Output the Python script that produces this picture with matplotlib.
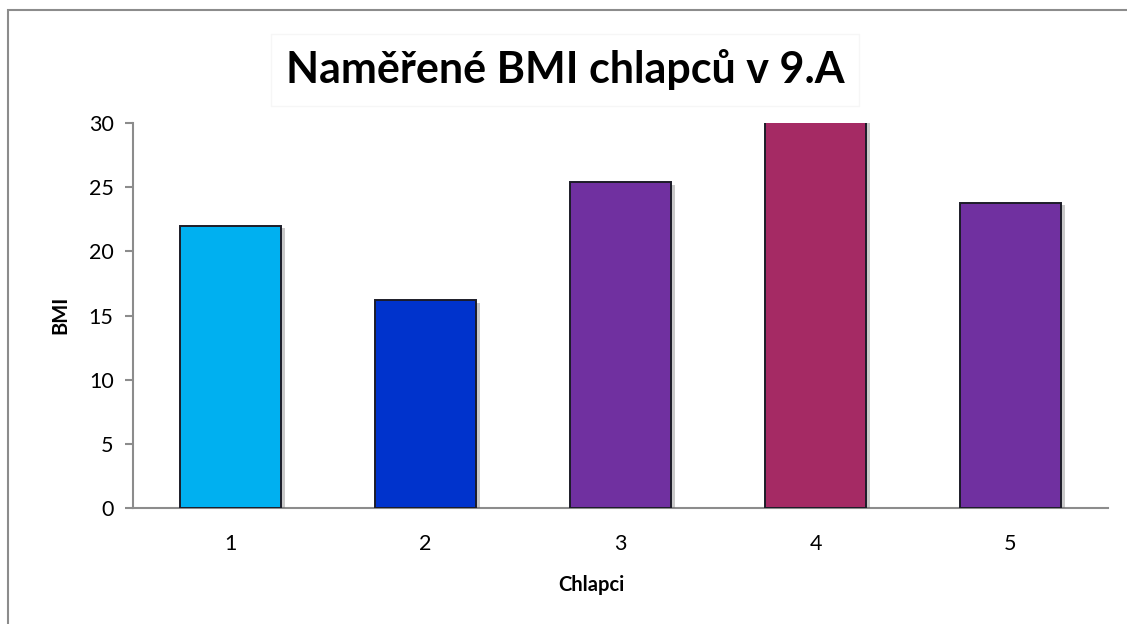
#!/usr/bin/env python3
"""Bar chart of measured BMI of boys in class 9.A."""

import matplotlib

matplotlib.use("Agg")
import matplotlib.pyplot as plt  # noqa: E402
import matplotlib.patheffects as pe  # noqa: E402
from matplotlib.patches import Rectangle  # noqa: E402

boys = ["1", "2", "3", "4", "5"]
bmi = [22.0, 16.2, 25.4, 31.0, 23.8]
bar_colors = ["#00B0F0", "#0033CC", "#7030A0", "#A52A64", "#7030A0"]
y_ticks = [0, 5, 10, 15, 20, 25, 30]

plt.rcParams["font.family"] = ["Lato", "DejaVu Sans"]

W, H = 1127, 624
fig = plt.figure(figsize=(W / 100, H / 100), dpi=100)
fig.patch.set_facecolor("white")

# outer chart frame (only top and left edge are inside the picture)
fig.add_artist(Rectangle((8 / W, -0.1), 1.2, (H - 10) / H + 0.1,
                         transform=fig.transFigure, fill=False,
                         edgecolor="#8c8c8c", linewidth=1.5))

ax = fig.add_axes([133 / W, (H - 508) / H, (1108 - 133) / W, (508 - 123) / H])
x = range(len(boys))
bars = ax.bar(x, bmi, width=0.52, color=bar_colors, edgecolor="#1c1c28",
              linewidth=1.4, zorder=3)
for b in bars:
    b.set_path_effects([
        pe.SimplePatchShadow(offset=(3, -2), shadow_rgbFace="#666666", alpha=0.35),
        pe.Normal(),
    ])

ax.set_xlim(-0.5, len(boys) - 0.5)
ax.set_ylim(0, 30)
ax.set_yticks(y_ticks)
ax.set_xticks(list(x))
ax.set_xticklabels(boys)

for side in ("top", "right"):
    ax.spines[side].set_visible(False)
for side in ("left", "bottom"):
    ax.spines[side].set_color("#8c8c8c")
    ax.spines[side].set_linewidth(1.5)

ax.tick_params(axis="y", direction="out", length=6, width=1.5, color="#8c8c8c",
               labelsize=15.5, pad=8)
ax.tick_params(axis="x", length=0, labelsize=15.5, pad=19)

fig.text(60 / W, 1 - 315 / H, "BMI", rotation=90, ha="center", va="center",
         fontsize=14.5, fontweight="bold")
fig.text(591 / W, 1 - 585 / H, "Chlapci", ha="center", va="center",
         fontsize=14.5, fontweight="bold")

fig.text(565 / W, 1 - 70 / H, "Naměřené BMI chlapců v 9.A", ha="center",
         va="center", fontsize=31, fontweight="bold",
         bbox=dict(boxstyle="square,pad=0.35", facecolor="white",
                   edgecolor="#f6f6f6", linewidth=1))

fig.savefig("out.png", dpi=100)
plt.close(fig)
